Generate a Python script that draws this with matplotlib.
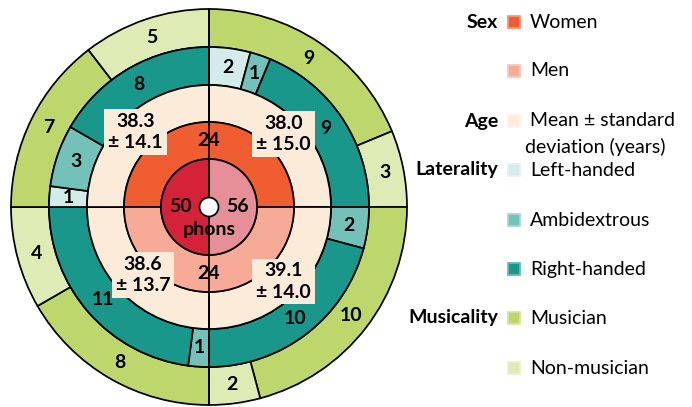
import numpy as np
import matplotlib
matplotlib.use("Agg")
import matplotlib.pyplot as plt
from matplotlib.patches import Wedge, Circle
from matplotlib.colors import to_rgb

# ---------------- data ----------------
# centre: loudness level (phons), right half then left half (clockwise from 12 o'clock)
phon_levels = [56, 50]
phon_counts = [24, 24]

# sex ring, clockwise from 9 o'clock
sex_labels = ["Women", "Men"]
sex_counts = [24, 24]

# age ring, quadrants clockwise from 12 o'clock (TR, BR, BL, TL)
age_counts = [12, 12, 12, 12]
age_means = [38.0, 39.1, 38.6, 38.3]
age_sds = [15.0, 14.0, 13.7, 14.1]

# laterality ring, clockwise from 12 o'clock
lat_cats = ["Left-handed", "Ambidextrous", "Right-handed",
            "Ambidextrous", "Right-handed",
            "Ambidextrous", "Right-handed",
            "Left-handed", "Ambidextrous", "Right-handed"]
lat_counts = [2, 1, 9, 2, 10, 1, 11, 1, 3, 8]

# musicality ring, clockwise from 12 o'clock
mus_cats = ["Musician", "Non-musician", "Musician", "Non-musician",
            "Musician", "Non-musician", "Musician", "Non-musician"]
mus_counts = [9, 3, 10, 2, 8, 4, 7, 5]

legend_groups = ["Sex", "", "Age", "Laterality", "", "", "Musicality", ""]
legend_items = ["Women", "Men", "Mean \u00b1 standard", "Left-handed",
                "Ambidextrous", "Right-handed", "Musician", "Non-musician"]

# ---------------- style ----------------
colors = {
    "Women": "#EF5D31",
    "Men": "#F7AB97",
    56: "#E78F99",
    50: "#D42338",
    "Age": "#FDEBDA",
    "Left-handed": "#D3ECEA",
    "Ambidextrous": "#74C1BA",
    "Right-handed": "#1A978B",
    "Musician": "#BED76C",
    "Non-musician": "#DEEBB4",
}
legend_colors = [colors["Women"], colors["Men"], colors["Age"], colors["Left-handed"],
                 colors["Ambidextrous"], colors["Right-handed"], colors["Musician"],
                 colors["Non-musician"]]

R_HOLE, R_PHON, R_SEX, R_AGE, R_LAT, R_MUS = 9.5, 48, 85, 122, 160, 198
LW = 1.25
FONT = ["Lato", "DejaVu Sans"]
FS = 14

plt.rcParams["font.family"] = FONT

fig = plt.figure(figsize=(6.92, 4.07), dpi=100)
ax = fig.add_axes([0, 0, 1, 1])
ax.set_xlim(-209, 692 - 209)
ax.set_ylim(-200, 207)
ax.set_aspect("equal")
ax.axis("off")

unit = 360.0 / sum(sex_counts)


def ring(counts, cols, start, r_in, r_out, labels=None, fs=FS):
    theta = start
    for i, (c, col) in enumerate(zip(counts, cols)):
        t2 = theta
        t1 = theta - c * unit
        ax.add_patch(Wedge((0, 0), r_out, t1, t2, width=r_out - r_in,
                           facecolor=col, edgecolor="black", lw=LW))
        if labels is not None and labels[i] is not None:
            mid = np.deg2rad((t1 + t2) / 2)
            rm = (r_in + r_out) / 2
            ax.text(rm * np.cos(mid), rm * np.sin(mid), labels[i], ha="center",
                    va="center", fontsize=fs, fontweight="bold", color="black")
        theta = t1


ring(mus_counts, [colors[c] for c in mus_cats], 90, R_LAT, R_MUS,
     [str(c) for c in mus_counts])
ring(lat_counts, [colors[c] for c in lat_cats], 90, R_AGE, R_LAT,
     [str(c) for c in lat_counts])
ring(age_counts, [colors["Age"]] * 4, 90, R_SEX, R_AGE)
ring(sex_counts, [colors[s] for s in sex_labels], 180, R_PHON, R_SEX,
     [str(c) for c in sex_counts])
ring(phon_counts, [colors[p] for p in phon_levels], 90, 0, R_PHON)

# quadrant divider line
ax.plot([0, 0], [-R_MUS, R_MUS], color="black", lw=LW, zorder=3)
ax.add_patch(Circle((0, 0), R_HOLE, facecolor="white", edgecolor="black", lw=LW, zorder=4))

# centre labels
ax.text(-28, 0, str(phon_levels[1]), ha="center", va="center", fontsize=FS, fontweight="bold")
ax.text(29, 0, str(phon_levels[0]), ha="center", va="center", fontsize=FS, fontweight="bold")
ax.text(0, -22, "phons", ha="center", va="center", fontsize=FS, fontweight="bold", zorder=5)

# age boxes
age_pos = [(74.5, 73), (74.5, -74.5), (-66, -68), (-73.5, 75)]
for (x, y), m, s in zip(age_pos, age_means, age_sds):
    ax.text(x, y, f"{m:.1f}\n\u00b1 {s:.1f}", ha="center", va="center",
            fontsize=FS, fontweight="bold", linespacing=1.3, zorder=6,
            bbox=dict(boxstyle="square,pad=0.2", fc=colors["Age"], ec="none"))

# legend
row_y = [22, 71, 121, 170, 220, 269, 318, 368]
for yy, g, it, col in zip(row_y, legend_groups, legend_items, legend_colors):
    y = 207 - yy
    rgb = np.array(to_rgb(col))
    edge = rgb * 0.65 + 0.35
    ax.plot(514 - 209, y, marker="s", markersize=9.2, markerfacecolor=col,
            markeredgecolor=edge, markeredgewidth=1.3, ls="none")
    ax.text(530 - 209, y, it, ha="left", va="center", fontsize=FS)
    if g:
        ax.text(498 - 209, y, g, ha="right", va="center", fontsize=FS, fontweight="bold")
ax.text(525 - 209, 207 - 147, "deviation (years)", ha="left", va="center", fontsize=FS)

fig.savefig("out.png", dpi=100)
